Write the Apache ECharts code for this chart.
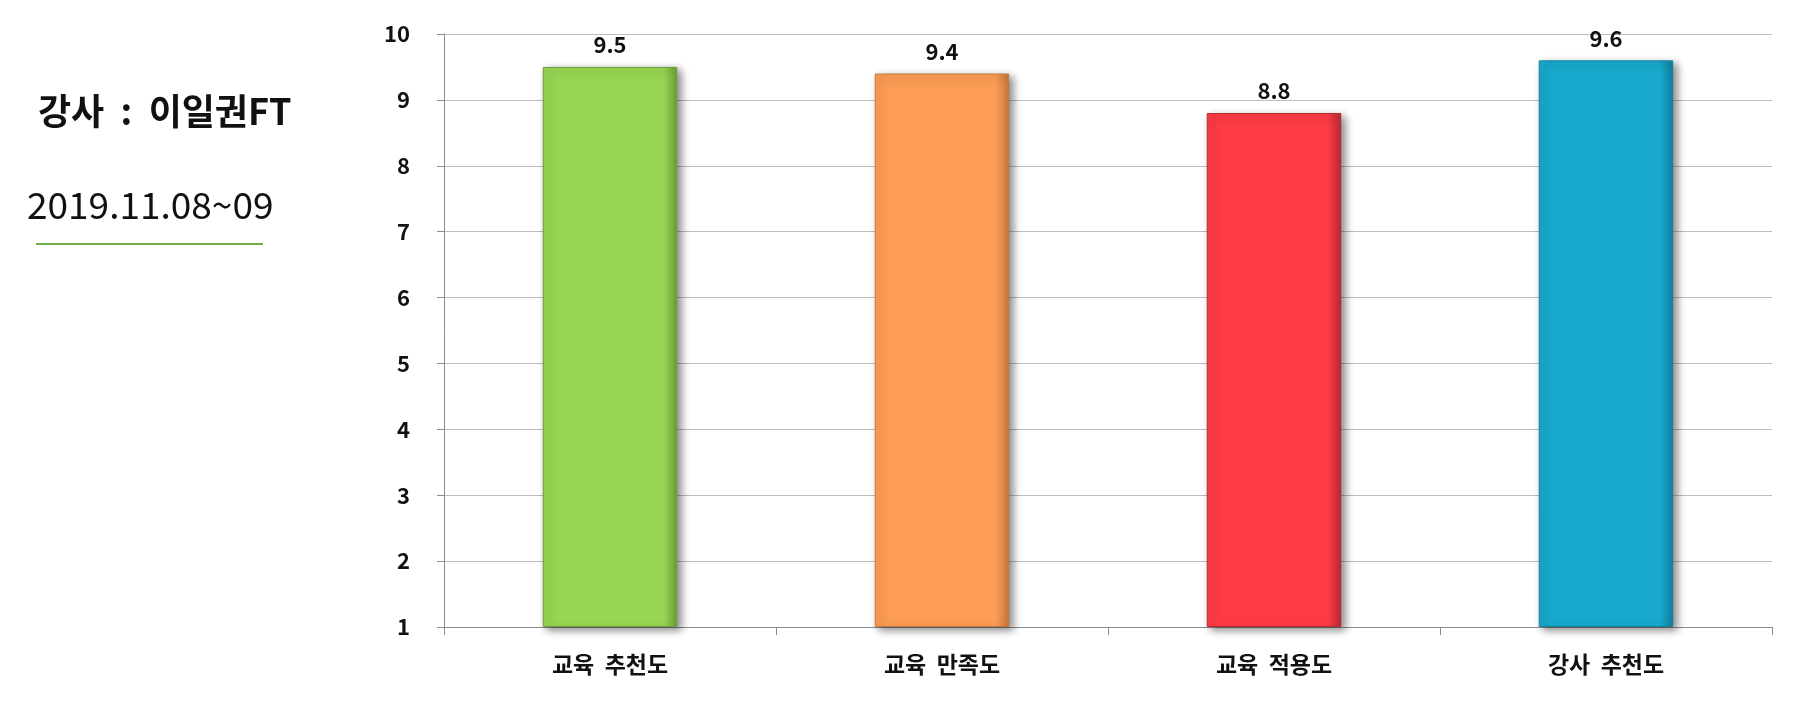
<!DOCTYPE html>
<html><head><meta charset="utf-8">
<script src="https://cdn.jsdelivr.net/npm/echarts@6/dist/echarts.min.js"></script>
<style>html,body{margin:0;padding:0;background:#fff}#c{width:1800px;height:718px}</style>
</head><body><div id="c"></div>
<script>
const categories = ['교육  추천도', '교육  만족도', '교육  적용도', '강사  추천도'];
const values = [9.5, 9.4, 8.8, 9.6];
const barColors = ['#97D653', '#FC9C55', '#FE3B45', '#18A9CD'];
const edgeColors = ['#6E9E38', '#C5763C', '#B82A31', '#10809C'];
const yTicks = { min: 1, max: 10, interval: 1 };
const instructor = '강사  :  이일권FT';
const dateText = '2019.11.08~09';

const font = '"Noto Sans CJK KR", "Noto Sans", sans-serif';
const chart = echarts.init(document.getElementById('c'), null, { renderer: 'canvas' });
chart.setOption({
  animation: false,
  grid: { left: 444, right: 28, top: 34, bottom: 91 },
  xAxis: {
    type: 'category',
    data: categories,
    axisLine: { lineStyle: { color: '#8c8c8c', width: 1 } },
    axisTick: { show: true, length: 8, alignWithLabel: false, lineStyle: { color: '#8c8c8c' } },
    axisLabel: { color: '#111', fontSize: 23, fontWeight: 'bold', fontFamily: font, margin: 26 }
  },
  yAxis: {
    type: 'value',
    min: yTicks.min, max: yTicks.max, interval: yTicks.interval,
    startValue: yTicks.min,
    axisLine: { show: true, lineStyle: { color: '#8c8c8c' } },
    axisTick: { show: true, length: 7, lineStyle: { color: '#8c8c8c' } },
    splitLine: { lineStyle: { color: '#bdbdbd', width: 1 } },
    axisLabel: { color: '#111', fontSize: 22, fontWeight: 'bold', fontFamily: font, margin: 34 }
  },
  series: [{
    type: 'bar',
    barWidth: '40.5%',
    data: values.map((v, i) => ({
      value: v,
      itemStyle: {
        color: new echarts.graphic.LinearGradient(0, 0, 1, 0, [
          { offset: 0, color: barColors[i] },
          { offset: 0.9, color: barColors[i] },
          { offset: 1, color: edgeColors[i] }
        ]),
        borderColor: edgeColors[i],
        borderWidth: 1,
        shadowColor: 'rgba(0,0,0,0.45)',
        shadowBlur: 8,
        shadowOffsetX: 4,
        shadowOffsetY: 3
      }
    })),
    label: {
      show: true, position: 'top', distance: 11,
      color: '#111', fontSize: 22, fontWeight: 'bold', fontFamily: font
    }
  }],
  graphic: [
    { type: 'text', left: 38, top: 93, style: { text: instructor, font: 'bold 36px ' + font, fill: '#111' } },
    { type: 'text', left: 27, top: 186, style: { text: dateText, font: '37px ' + font, fill: '#111' } },
    { type: 'line', shape: { x1: 36, y1: 244, x2: 263, y2: 244 }, style: { stroke: '#70AD47', lineWidth: 2 } }
  ]
});
</script></body></html>
